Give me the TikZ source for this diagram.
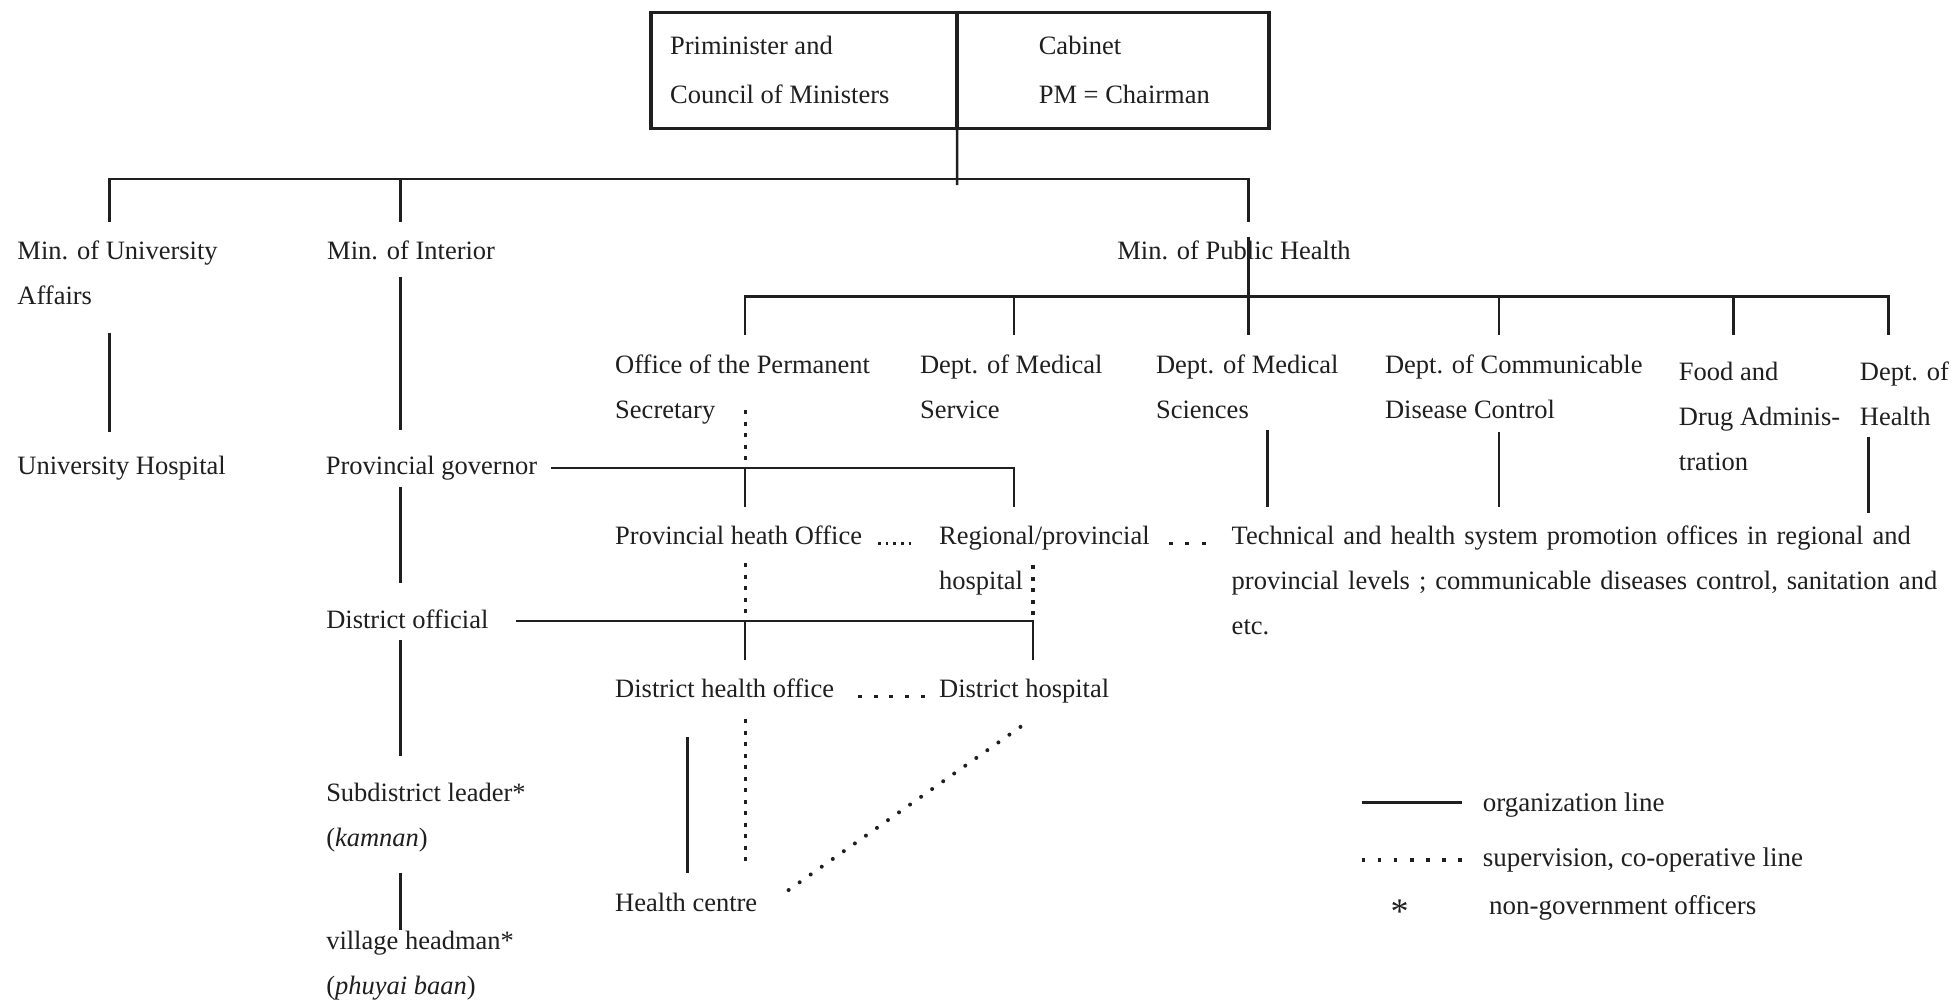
\documentclass[tikz,border=0pt]{standalone}
\usepackage{fontspec}
\setmainfont{Liberation Serif}
\usetikzlibrary{calc}
\definecolor{ink}{gray}{0.12}
\newcommand{\ml}[1]{\begin{tabular}[t]{@{}l@{}}#1\end{tabular}}
\newcommand{\widesp}{\spaceskip=9pt plus 1pt\relax}
\tikzset{
  lbl/.style={anchor=base west, inner sep=0pt, outer sep=0pt, text=ink,
              font=\fontsize{26.5pt}{45pt}\selectfont},
  boxlbl/.style={lbl, font=\fontsize{26.5pt}{48.6pt}\selectfont},
  leglbl/.style={lbl, font=\fontsize{27pt}{45pt}\selectfont},
  astlbl/.style={lbl, font=\fontsize{36pt}{45pt}\selectfont},
  cell/.style={draw=ink, line width=3.2pt, anchor=north west, inner sep=0pt,
               outer sep=0pt, minimum height=115.6pt},
  org/.style={draw=ink, line width=2.5pt},
  legorg/.style={draw=ink, line width=3.6pt},
  supv/.style={draw=ink, line width=3.2pt, dash pattern=on 4pt off 7.5pt},
  supsmall/.style={draw=ink, line width=2.6pt, dash pattern=on 2.6pt off 5pt},
  suph3/.style={draw=ink, line width=3.2pt, dash pattern=on 4pt off 12.15pt},
  suph5/.style={draw=ink, line width=3.2pt, dash pattern=on 4pt off 11.8pt},
  supdiag/.style={draw=ink, line width=4pt, line cap=round, dash pattern=on 0pt off 13.5pt},
  supleg/.style={draw=ink, line width=3.4pt, dash pattern=on 3.5pt off 12.6pt},
}
\begin{document}
\begin{tikzpicture}[x=1.2462pt, y=-1.2462pt]
\useasboundingbox (0,0) rectangle (1568,806);
\fill[white] (0,0) rectangle (1568,806);

% ---------- top box ----------
\node[cell, minimum width=306.1pt] (pm) at (522.4,10.2) {};
\node[cell, minimum width=311.9pt] (cab) at (768,10.2) {};
\node[boxlbl] (pmt) at (537.7,44) {\ml{Priminister and\\Council of Ministers}};
\node[boxlbl] (cabt) at (833.6,44) {\ml{Cabinet\\PM = Chairman}};

% ---------- ministries ----------
\node[lbl] (mua) at (14,208.6) {\ml{Min. of University\\Affairs}};
\node[lbl] (mi) at (262.6,208.6) {Min. of Interior};
\node[lbl] (mph) at (896.6,208.6) {Min. of Public Health};

% ---------- departments ----------
\node[lbl] (ops) at (493.7,299.5) {\ml{Office of the Permanent\\Secretary}};
\node[lbl] (dms) at (738.3,299.5) {\ml{Dept. of Medical\\Service}};
\node[lbl] (dmsc) at (927.7,299.5) {\ml{Dept. of Medical\\Sciences}};
\node[lbl] (dcdc) at (1111.4,299.5) {\ml{Dept. of Communicable\\Disease Control}};
\node[lbl] (fda) at (1347.3,305) {\ml{Food and\\Drug Adminis-\\tration}};
\node[lbl] (doh) at (1492.5,305) {\ml{Dept. of\\Health}};

% ---------- lower levels ----------
\node[lbl] (uh) at (14,381) {University Hospital};
\node[lbl] (pg) at (261.5,381) {Provincial governor};
\node[lbl] (pho) at (493.7,437.3) {Provincial heath Office};
\node[lbl] (rph) at (753.6,437.3) {\ml{Regional/provincial\\hospital}};
\node[lbl] (tech) at (988.4,437.3) {\widesp\ml{Technical and health system promotion offices in regional and\\provincial levels ; communicable diseases control, sanitation and\\etc.}};
\node[lbl] (dof) at (261.8,504) {District official};
\node[lbl] (dho) at (493.7,560) {District health office};
\node[lbl] (dh) at (753.6,560) {District hospital};
\node[lbl] (sdl) at (261.8,643.3) {\ml{Subdistrict leader*\\(\textit{kamnan})}};
\node[lbl] (hc) at (493.7,731.6) {Health centre};
\node[lbl] (vh) at (261.8,762.3) {\ml{village headman*\\(\textit{phuyai baan})}};

% ---------- legend ----------
\coordinate (lgA1) at (1092.7,643.8);
\coordinate (lgA2) at (1173,643.8);
\coordinate (lgB1) at (1092.7,690);
\coordinate (lgB2) at (1173,690);
\node[leglbl] (lgorg) at (1190,651.3) {organization line};
\node[leglbl] (lgsup) at (1190,695) {supervision, co-operative line};
\node[astlbl] (lgast) at (1116,741) {*};
\node[leglbl] (lgngo) at (1195,734) {non-government officers};
\draw[legorg] (lgA1) -- (lgA2);
\draw[supleg] (lgB1) -- (lgB2);

% ---------- coordinates of the organization lines ----------
\coordinate (tbL) at (88,143.5);
\coordinate (tbI) at (321.5,143.5);
\coordinate (tbR) at (1002,143.5);
\coordinate (tbC) at (768,148.5);
\coordinate (muaT) at (88,178);
\coordinate (miT) at (321.5,178);
\coordinate (mphT) at (1002,178);
\coordinate (mphA) at (1002,190);
\coordinate (mphB) at (1002,269);
\coordinate (hbL) at (598,238);
\coordinate (hbR) at (1515.5,238);
\coordinate (opsT) at (598,269);
\coordinate (dmsJ) at (813.7,238);
\coordinate (dmsT) at (813.7,269);
\coordinate (dcdcJ) at (1203,238);
\coordinate (dcdcT) at (1203,269);
\coordinate (fdaJ) at (1391,238);
\coordinate (fdaT) at (1391,269);
\coordinate (dohT) at (1515.5,269);
\coordinate (muaB) at (88,267);
\coordinate (uhT) at (88,346.7);
\coordinate (miB) at (321.5,222);
\coordinate (pgT) at (321.5,345);
\coordinate (pgL) at (442,375.6);
\coordinate (pgJ) at (598,375.6);
\coordinate (pgR) at (813.7,375.6);
\coordinate (phoT) at (598,406.8);
\coordinate (rphT) at (813.7,406.8);
\coordinate (pgB) at (321.5,390.6);
\coordinate (dofT) at (321.5,467.6);
\coordinate (dofL) at (413.7,498.3);
\coordinate (dofJ) at (598,498.3);
\coordinate (dofR) at (829,498.3);
\coordinate (dhoT) at (598,529.6);
\coordinate (dhT) at (829,529.6);
\coordinate (dofB) at (321.5,513.6);
\coordinate (sdlT) at (321.5,607);
\coordinate (sdlB) at (321.5,700.3);
\coordinate (vhT) at (321.5,746.3);
\coordinate (dmscB) at (1017,345);
\coordinate (dmscT) at (1017,407);
\coordinate (dcdcB) at (1203,346.7);
\coordinate (dcdcTT) at (1203,407);
\coordinate (dohB) at (1499.4,350.4);
\coordinate (dohTT) at (1499.4,411.8);
\coordinate (hcA) at (551.7,591);
\coordinate (hcB) at (551.7,700.7);

% ---------- organization lines ----------
\draw[org] (pm.south east) -- (tbC);
\draw[org] (muaT) -- (tbL) -- (tbR) -- (mphT);
\draw[org] (tbI) -- (miT);
\draw[org] (mphA) -- (mphB);
\draw[org] (opsT) -- (hbL) -- (hbR) -- (dohT);
\draw[org] (dmsJ) -- (dmsT);
\draw[org] (dcdcJ) -- (dcdcT);
\draw[org] (fdaJ) -- (fdaT);
\draw[org] (muaB) -- (uhT);
\draw[org] (miB) -- (pgT);
\draw[org] (pgL) -- (pgR) -- (rphT);
\draw[org] (pgJ) -- (phoT);
\draw[org] (pgB) -- (dofT);
\draw[org] (dofL) -- (dofR) -- (dhT);
\draw[org] (dofJ) -- (dhoT);
\draw[org] (dofB) -- (sdlT);
\draw[org] (sdlB) -- (vhT);
\draw[org] (dmscB) -- (dmscT);
\draw[org] (dcdcB) -- (dcdcTT);
\draw[org] (dohB) -- (dohTT);
\draw[org] (hcA) -- (hcB);

% ---------- supervision lines ----------
\coordinate (opsS1) at (598,329);
\coordinate (opsS2) at (598,371.5);
\coordinate (phoS1) at (598,452);
\coordinate (phoS2) at (598,492);
\coordinate (rphS1) at (829,453.4);
\coordinate (rphS2) at (829,494.8);
\coordinate (dhoS1) at (598,577);
\coordinate (dhoS2) at (598,692.6);
\draw[supv] (opsS1) -- (opsS2);
\draw[supv] (phoS1) -- (phoS2);
\draw[supv] (rphS1) -- (rphS2);
\draw[supv] (dhoS1) -- (dhoS2);
\draw[supsmall] ($(pho.base east)+(13,-1.2)$) -- ($(rph.base west)+(-21,-1.2)$);
\draw[suph3] ($(rph.base east)+(15.8,-1.2)$) -- ($(tech.base west)+(-20.7,-1.2)$);
\draw[suph5] ($(dho.base east)+(19.1,-1.2)$) -- ($(dh.base west)+(-10.6,-1.2)$);
\draw[supdiag] ($(hc.base east)+(25.2,-17.4)$) -- ($(dh.base west)+(73.9,17.2)$);
\end{tikzpicture}
\end{document}
